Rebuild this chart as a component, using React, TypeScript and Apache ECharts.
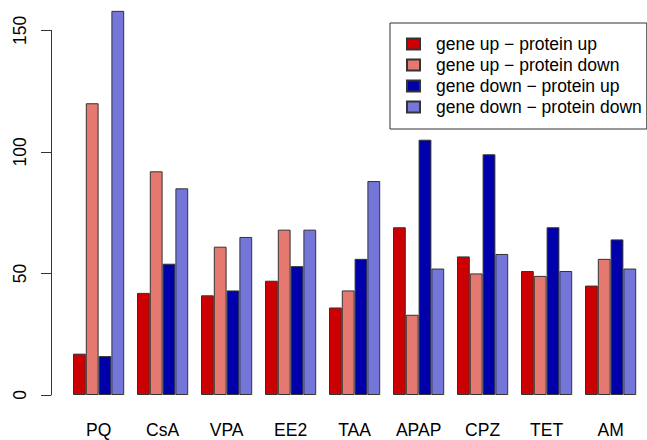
import React, { useEffect, useRef } from "react";
import * as echarts from "echarts";

const categories = ["PQ", "CsA", "VPA", "EE2", "TAA", "APAP", "CPZ", "TET", "AM"];
const seriesNames = [
  "gene up − protein up",
  "gene up − protein down",
  "gene down − protein up",
  "gene down − protein down",
];
const upUp = [17, 42, 41, 47, 36, 69, 57, 51, 45];
const upDown = [120, 92, 61, 68, 43, 33, 50, 49, 56];
const downUp = [16, 54, 43, 53, 56, 105, 99, 69, 64];
const downDown = [158, 85, 65, 68, 88, 52, 58, 51, 52];
const seriesValues = [upUp, upDown, downUp, downDown];
const colors = ["#CC0000", "#E5786F", "#0000AA", "#7676D8"];
const yTicks = { min: 0, max: 150, interval: 50 };

const FONT = "'Liberation Sans', Arial, Helvetica, sans-serif";
const FS = 17.5;

export default function App() {
  const ref = useRef<HTMLDivElement>(null);
  useEffect(() => {
    if (!ref.current) return;
    const chart = echarts.init(ref.current, undefined, { renderer: "svg" });
    chart.setOption({
      animation: false,
      backgroundColor: "#ffffff",
      textStyle: { fontFamily: FONT },
      grid: { left: 66.6, right: 4.4, top: 30.3, bottom: 45 },
      legend: {
        orient: "vertical",
        left: 390,
        top: 23,
        data: seriesNames,
        icon: "rect",
        itemWidth: 13,
        itemHeight: 11,
        itemGap: 3,
        padding: [12, 5, 13, 16],
        borderColor: "#333",
        borderWidth: 1,
        backgroundColor: "#ffffff",
        textStyle: { fontFamily: FONT, fontSize: FS, color: "#000", padding: [0, 0, 0, 11] },
      },
      xAxis: {
        type: "category",
        data: categories,
        axisLine: { show: false },
        axisTick: { show: false },
        axisLabel: { fontFamily: FONT, fontSize: FS, color: "#000", margin: 26 },
      },
      yAxis: {
        type: "value",
        min: yTicks.min,
        max: yTicks.max,
        interval: yTicks.interval,
        offset: 15.6,
        axisLine: { show: true, lineStyle: { color: "#333", width: 1 } },
        axisTick: { show: true, length: 10, lineStyle: { color: "#333", width: 1 } },
        axisLabel: { fontFamily: FONT, fontSize: FS, color: "#000", rotate: 90, margin: 22 },
        splitLine: { show: false },
      },
      series: seriesValues.map((vals, i) => ({
        name: seriesNames[i],
        type: "bar",
        data: vals,
        clip: false,
        barGap: "0%",
        barCategoryGap: "20%",
        itemStyle: { color: colors[i], borderColor: "#333", borderWidth: 1 },
      })),
    });
    return () => chart.dispose();
  }, []);
  return (
    <div
      ref={ref}
      style={{ position: "fixed", left: 0, top: 0, width: 647, height: 440 }}
    />
  );
}
